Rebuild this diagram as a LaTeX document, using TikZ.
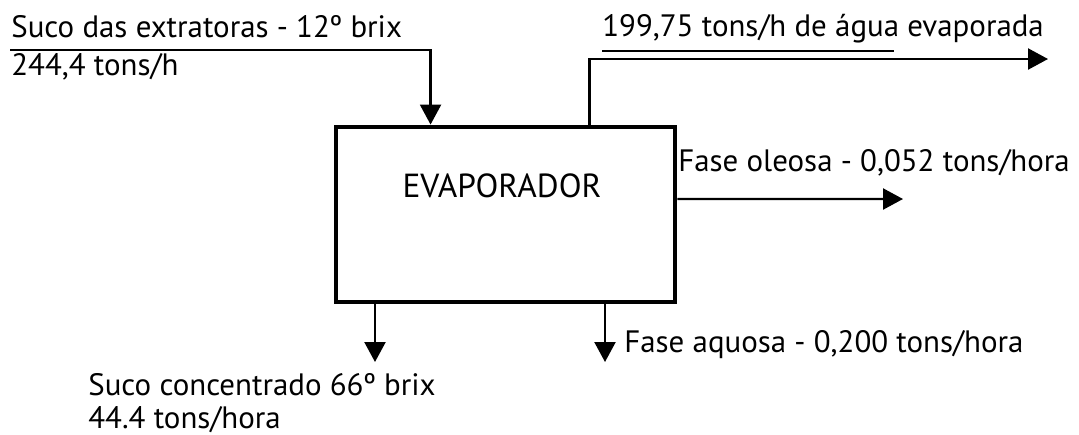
\documentclass[tikz,border=0pt]{standalone}
\usepackage{fontspec}
\setmainfont{PT Sans}
\usetikzlibrary{arrows.meta}

\begin{document}
\begin{tikzpicture}[
  x=0.02cm, y=-0.02cm,
  evapbox/.style = {draw, line width=2.8pt, minimum width=6.78cm, minimum height=3.5cm, inner sep=0pt},
  evapflow/.style = {line width=1.3pt, -{Triangle[length=0.4cm, width=0.42cm]}},
  evaplbl/.style = {font=\fontsize{17.6}{20}\selectfont, inner sep=0pt, anchor=base west},
  evapline/.style = {line width=0.9pt}
]
  \useasboundingbox (0,0) rectangle (1079,434);
  % evaporador
  \node[evapbox] (evap) at (505.5,214.5) {};
  \node[evaplbl, font=\fontsize{19}{22}\selectfont, anchor=base] (evapname) at (502,197) {EVAPORADOR};
  % entrada de suco
  \coordinate (inA) at (10,50);
  \coordinate (evapIn) at ([xshift=1.94cm]evap.north west);
  \draw[evapflow] (inA) -| (evapIn);
  \node[evaplbl] (inTop) at (11,37) {Suco das extratoras - 12º brix};
  \node[evaplbl] (inBot) at (11,75) {244,4 tons/h};
  % agua evaporada
  \coordinate (evapOut) at ([xshift=5.12cm]evap.north west);
  \coordinate (vapEnd) at (1048,59);
  \draw[evapflow] (evapOut) |- (vapEnd);
  \node[evaplbl] (vapTxt) at (602,36) {199,75 tons/h de água evaporada};
  \coordinate (ulEnd) at (894,51);
  \draw[evapline] (vapTxt.base west |- ulEnd) -- (ulEnd);
  % fase oleosa
  \coordinate (oilEnd) at (903,199);
  \draw[evapflow] ([yshift=0.31cm]evap.east) -- (oilEnd);
  \node[evaplbl] (oilTxt) at (678,171) {Fase oleosa - 0,052 tons/hora};
  % suco concentrado
  \coordinate (concEnd) at (375,362);
  \draw[evapflow] (concEnd |- evap.south) -- (concEnd);
  \node[evaplbl] (concTop) at (88,395) {Suco concentrado 66º brix};
  \node[evaplbl] (concBot) at (88,428) {44.4 tons/hora};
  % fase aquosa
  \coordinate (aqEnd) at (605,362);
  \draw[evapflow] (aqEnd |- evap.south) -- (aqEnd);
  \node[evaplbl] (aqTxt) at (624,352) {Fase aquosa - 0,200 tons/hora};
\end{tikzpicture}
\end{document}
